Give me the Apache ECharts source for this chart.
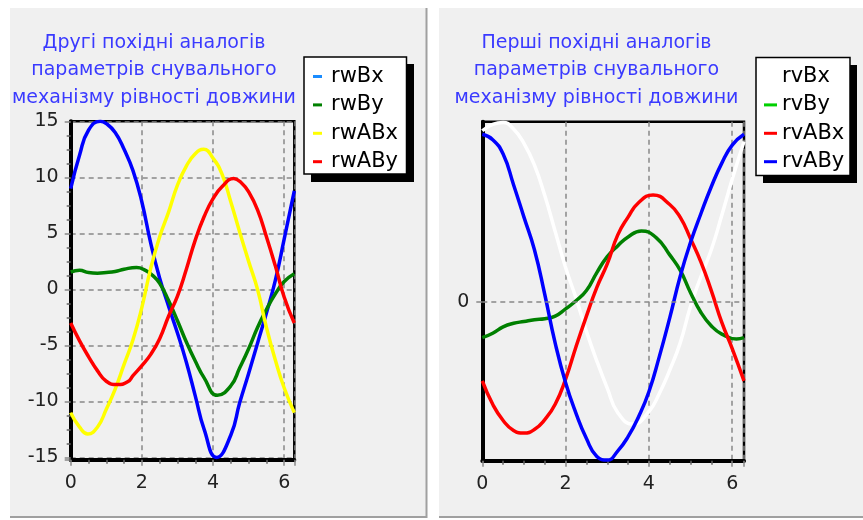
<!DOCTYPE html>
<html>
<head>
<meta charset="utf-8">
<script src="https://cdn.jsdelivr.net/npm/echarts@6/dist/echarts.min.js"></script>
<style>
html,body{margin:0;padding:0;background:#fff;}
#c{width:863px;height:520px;}
</style>
</head>
<body>
<div id="c"></div>
<script>
// ---- data: [x, value] points ----
const leftTitle = 'Другі похідні аналогів\nпараметрів снувального\nмеханізму рівності довжини';
const rightTitle = 'Перші похідні аналогів\nпараметрів снувального\nмеханізму рівності довжини';

const leftNames = ['rwBx','rwBy','rwABx','rwABy'];
const rwBx = [[0,9.0],[0.25,12.0],[0.5,14.2],[0.83,15.0],[1.0,14.8],[1.25,14.0],[1.5,12.5],[1.75,10.6],[2.0,7.8],[2.25,4.1],[2.5,1.0],[2.75,-1.5],[3.0,-3.9],[3.25,-6.5],[3.5,-9.5],[3.75,-12.5],[4.1,-15.0],[4.5,-13.0],[4.75,-10.1],[5.0,-7.5],[5.25,-4.8],[5.5,-2.1],[5.75,0.8],[6.0,4.5],[6.2832,8.8]];
const rwBy = [[0,1.55],[0.25,1.7],[0.5,1.5],[0.75,1.45],[1.0,1.5],[1.25,1.6],[1.5,1.8],[1.85,1.95],[2.1,1.7],[2.3,1.25],[2.5,0.55],[2.75,-1.0],[3.0,-2.8],[3.25,-4.7],[3.5,-6.4],[3.75,-7.9],[4.12,-9.45],[4.5,-8.6],[4.75,-7.0],[5.0,-5.3],[5.25,-3.4],[5.5,-1.8],[5.75,-0.4],[6.0,0.7],[6.2832,1.4]];
const rwABx = [[0,-11.0],[0.25,-12.3],[0.48,-12.9],[0.75,-12.3],[1.0,-10.7],[1.25,-8.9],[1.5,-6.7],[1.75,-4.5],[2.0,-1.6],[2.25,1.9],[2.5,4.7],[2.75,6.9],[3.0,9.3],[3.25,11.0],[3.5,12.1],[3.74,12.5],[4.0,11.7],[4.25,10.3],[4.5,7.8],[4.75,5.1],[5.0,2.5],[5.25,0.0],[5.5,-3.4],[5.75,-6.3],[6.0,-8.8],[6.2832,-11.0]];
const rwABy = [[0,-3.0],[0.25,-4.6],[0.5,-6.0],[0.75,-7.25],[1.0,-8.2],[1.3,-8.5],[1.6,-8.25],[1.75,-7.7],[2.0,-6.8],[2.25,-5.8],[2.5,-4.4],[2.75,-2.4],[3.0,-0.6],[3.25,1.8],[3.5,4.4],[3.75,6.5],[4.0,8.1],[4.25,9.15],[4.58,9.9],[4.8,9.5],[5.0,8.7],[5.25,7.1],[5.5,4.7],[5.75,2.1],[6.0,-0.7],[6.2832,-3.0]];

const rightNames = ['rvBx','rvBy','rvABx','rvABy'];
const rvBx = [[0,9.5],[0.25,9.85],[0.5,9.95],[0.75,9.6],[1.0,8.8],[1.25,7.6],[1.5,5.9],[1.75,3.9],[2.0,1.9],[2.25,0.2],[2.5,-1.65],[2.75,-3.3],[3.0,-4.8],[3.25,-6.15],[3.62,-6.8],[4.0,-6.1],[4.25,-5.1],[4.5,-3.8],[4.75,-2.3],[5.0,-0.25],[5.25,1.4],[5.5,2.9],[5.75,4.8],[6.0,6.8],[6.2832,8.9]];
const rvBy = [[0,-2.0],[0.25,-1.75],[0.5,-1.4],[0.75,-1.2],[1.0,-1.1],[1.25,-1.0],[1.5,-0.95],[1.75,-0.8],[2.0,-0.4],[2.25,0.05],[2.5,0.62],[2.75,1.62],[3.0,2.5],[3.25,3.1],[3.5,3.6],[3.82,3.93],[4.18,3.55],[4.5,2.6],[4.75,1.75],[5.0,0.5],[5.25,-0.6],[5.5,-1.35],[5.75,-1.8],[6.1,-2.07],[6.2832,-2.0]];
const rvABx = [[0,-4.4],[0.25,-5.7],[0.5,-6.6],[0.75,-7.15],[1.0,-7.3],[1.25,-7.1],[1.5,-6.55],[1.75,-5.7],[2.0,-4.3],[2.25,-2.5],[2.5,-0.8],[2.75,0.8],[3.0,2.1],[3.25,3.7],[3.5,4.7],[3.75,5.5],[4.1,5.93],[4.5,5.4],[4.75,4.7],[5.0,3.5],[5.25,2.2],[5.5,0.6],[5.75,-1.15],[6.0,-2.6],[6.2832,-4.4]];
const rvABy = [[0,9.3],[0.25,9.0],[0.5,8.2],[0.75,6.5],[1.0,4.7],[1.25,2.9],[1.5,0.4],[1.75,-2.3],[2.0,-4.5],[2.25,-6.2],[2.5,-7.6],[2.75,-8.6],[3.0,-8.8],[3.25,-8.3],[3.5,-7.5],[3.75,-6.4],[4.0,-5.0],[4.25,-3.05],[4.5,-0.9],[4.75,1.4],[5.0,3.3],[5.25,4.9],[5.5,6.4],[5.75,7.7],[6.0,8.7],[6.2832,9.3]];

const leftLineColors   = ['#0000ff','#008000','#ffff00','#ff0000'];
const leftLegendColors = ['#1a8cff','#008000','#ffff00','#ff0000'];
const rightLineColors   = ['#ffffff','#008000','#ff0000','#0000ff'];
const rightLegendColors = ['#ffffff','#00d000','#ff0000','#0000ff'];

const xTickLabels = ['0','2','4','6'];
const leftYTickLabels = ['-15','-10','-5','0','5','10','15'];
const rightYTickValues = [0];

// ---- chart ----
const FONT = 'DejaVu Sans';
const TWO_PI = Math.PI * 2;
const LINE_W = 3.5;

function xAxisOpt(grid) {
  return {
    type: 'value', gridIndex: grid, min: 0, max: TWO_PI, interval: 2,
    axisLine: { show: true, onZero: false, lineStyle: { color: '#000', width: 4 } },
    axisTick: { show: true, length: 6, lineStyle: { color: '#888', width: 1.5 } },
    minorTick: { show: true, splitNumber: 4, length: 4, lineStyle: { color: '#666', width: 1.5 } },
    axisLabel: { showMaxLabel: false, margin: 14, fontFamily: FONT, fontSize: 19, color: '#222',
      formatter: v => xTickLabels.includes(String(v)) ? String(v) : '' },
    splitLine: { show: true, lineStyle: { color: '#888', type: [5, 4], width: 1.5 } }
  };
}

const series = [];
[rwBx, rwBy, rwABx, rwABy].forEach((d, i) => {
  series.push({
    name: leftNames[i], type: 'line', xAxisIndex: 0, yAxisIndex: 0, data: d,
    showSymbol: false, smooth: 0.5, animation: false,
    lineStyle: { color: leftLineColors[i], width: LINE_W },
    itemStyle: { color: leftLegendColors[i] }
  });
});
series.push({
  name: 'zero', type: 'line', xAxisIndex: 1, yAxisIndex: 1, data: [], z: 1,
  animation: false, showSymbol: false,
  markLine: {
    silent: true, symbol: ['none', 'none'], label: { show: false }, animation: false,
    lineStyle: { color: '#888', type: [5, 4], width: 1.5 },
    data: [{ yAxis: 0 }]
  }
});
[rvBx, rvBy, rvABx, rvABy].forEach((d, i) => {
  series.push({
    name: rightNames[i], type: 'line', xAxisIndex: 1, yAxisIndex: 1, data: d,
    showSymbol: false, smooth: 0.5, animation: false,
    lineStyle: { color: rightLineColors[i], width: LINE_W },
    itemStyle: { color: rightLegendColors[i] }
  });
});

function legendOpt(names, colors, left, iconW, textPad) {
  return {
    orient: 'vertical', left: left, top: 66, padding: 0,
    itemWidth: iconW, itemHeight: 3, itemGap: 7.4, icon: 'rect',
    selectedMode: false,
    textStyle: { fontFamily: FONT, fontSize: 21, lineHeight: 20, color: '#000', padding: [0, 0, 0, textPad] },
    itemStyle: { borderWidth: 0 },
    data: names.map((n, i) => ({ name: n, itemStyle: { color: colors[i], borderWidth: 0 } }))
  };
}

const titleStyle = { fontFamily: FONT, fontSize: 19, fontWeight: 'normal', color: '#3a3aff', lineHeight: 27.5 };

const option = {
  backgroundColor: '#ffffff',
  animation: false,
  title: [
    { text: leftTitle, left: 154, top: 29, textAlign: 'center', padding: 0, textStyle: titleStyle },
    { text: rightTitle, left: 596.5, top: 29, textAlign: 'center', padding: 0, textStyle: titleStyle }
  ],
  legend: [
    legendOpt(leftNames, leftLegendColors, 313, 9, 4),
    legendOpt(rightNames, rightLegendColors, 764, 13, 0)
  ],
  graphic: [
    { type: 'rect', z: -10, shape: { x: 10, y: 8, width: 417, height: 510 }, style: { fill: '#f0f0f0' } },
    { type: 'rect', z: -10, shape: { x: 439, y: 8, width: 424, height: 510 }, style: { fill: '#f0f0f0' } },
    { type: 'line', z: -9, shape: { x1: 426.5, y1: 8, x2: 426.5, y2: 518 }, style: { stroke: '#a0a0a0', lineWidth: 2 } },
    { type: 'line', z: -9, shape: { x1: 10, y1: 517, x2: 427, y2: 517 }, style: { stroke: '#a0a0a0', lineWidth: 2 } },
    { type: 'line', z: -9, shape: { x1: 439, y1: 517, x2: 863, y2: 517 }, style: { stroke: '#a0a0a0', lineWidth: 2 } },
    { type: 'rect', z: 1, shape: { x: 311, y: 64, width: 103, height: 118 }, style: { fill: '#000' } },
    { type: 'rect', z: 2, shape: { x: 304, y: 57, width: 102.5, height: 117 }, style: { fill: '#fff', stroke: '#000', lineWidth: 1.5 } },
    { type: 'rect', z: 1, shape: { x: 763, y: 65, width: 94, height: 118 }, style: { fill: '#000' } },
    { type: 'rect', z: 2, shape: { x: 756, y: 57.5, width: 94, height: 118 }, style: { fill: '#fff', stroke: '#000', lineWidth: 1.5 } }
  ],
  grid: [
    { left: 70.7, top: 121.3, width: 223.6, height: 338.4, show: true, borderColor: '#000', borderWidth: 2.5,
      backgroundColor: 'transparent', containLabel: false, outerBoundsMode: 'none' },
    { left: 482.3, top: 121.7, width: 261.7, height: 339, show: true, borderColor: '#000', borderWidth: 2.5,
      backgroundColor: 'transparent', containLabel: false, outerBoundsMode: 'none' }
  ],
  xAxis: [xAxisOpt(0), xAxisOpt(1)],
  yAxis: [
    {
      type: 'value', gridIndex: 0, min: -15.2, max: 15, splitNumber: 6,
      axisLine: { show: true, onZero: false, lineStyle: { color: '#000', width: 4 } },
      axisTick: { show: true, length: 6, lineStyle: { color: '#888', width: 1.5 } },
      minorTick: { show: true, splitNumber: 4, length: 4, lineStyle: { color: '#666', width: 1.5 } },
      axisLabel: { showMinLabel: false, margin: 12, fontFamily: FONT, fontSize: 19, color: '#222',
        formatter: v => leftYTickLabels.includes(String(v)) ? String(v) : '' },
      splitLine: { show: true, lineStyle: { color: '#888', type: [5, 4], width: 1.5 } }
    },
    {
      type: 'value', gridIndex: 1, min: -8.833, max: 10, splitNumber: 5,
      axisLine: { show: true, onZero: false, lineStyle: { color: '#000', width: 4 } },
      axisTick: { show: true, customValues: rightYTickValues, length: 6, lineStyle: { color: '#888', width: 1.5 } },
      minorTick: { show: false },
      axisLabel: { customValues: rightYTickValues, margin: 13, fontFamily: FONT, fontSize: 19, color: '#222',
        formatter: v => (v === 0 ? '0' : '') },
      splitLine: { show: false }
    }
  ],
  series: series
};

const chart = echarts.init(document.getElementById('c'), null, { renderer: 'canvas', width: 863, height: 520 });
chart.setOption(option);
</script>
</body>
</html>
